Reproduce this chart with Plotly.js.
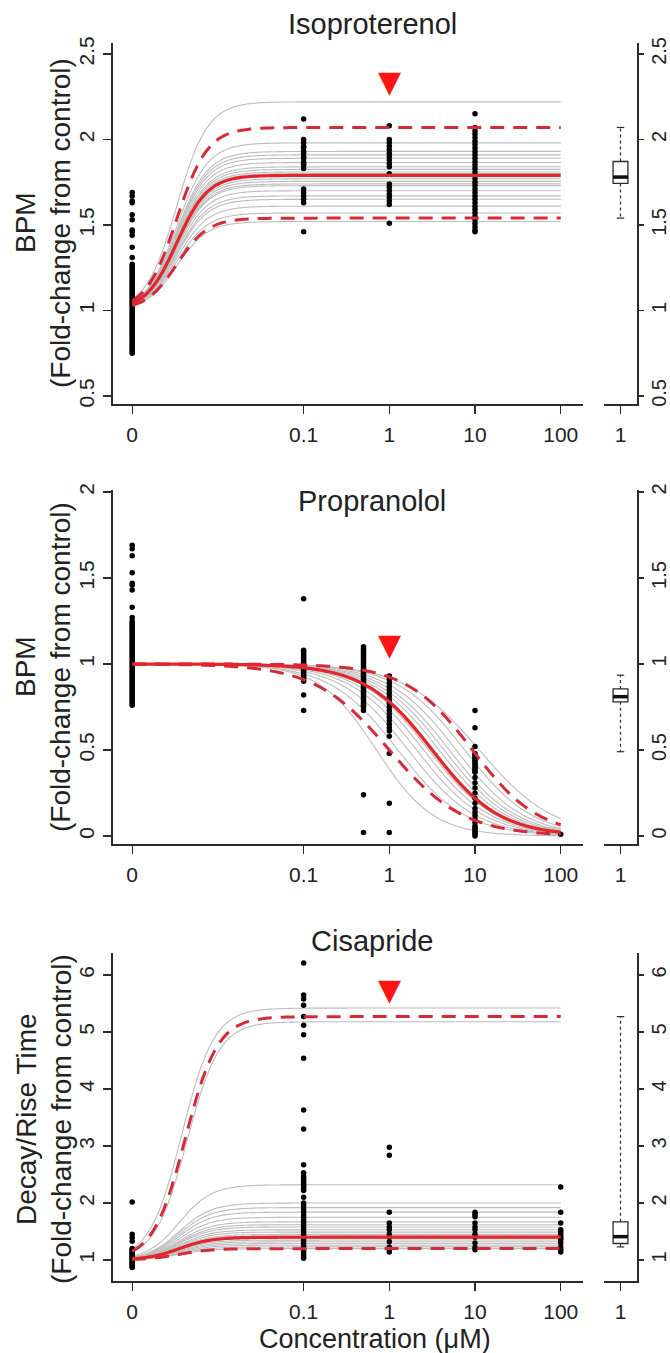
<!DOCTYPE html>
<html><head><meta charset="utf-8">
<script src="https://cdn.plot.ly/plotly-3.0.1.min.js"></script>
<style>html,body{margin:0;padding:0;background:#fff}#chart{width:670px;height:1353px}</style>
</head><body><div id="chart"></div>
<script>
// ================= DATA =================
const doseTickVals = [0, 0.1, 1, 10, 100];
const doseTickText = ['0', '0.1', '1', '10', '100'];
const markDose = 1; // red triangle concentration (µM)

// ---- Isoproterenol (BPM, fold-change) ----
const isoDoses = [0, 0.1, 1, 10];
const isoResp0 = [1.69,1.67,1.64,1.63,1.56,1.53,1.47,1.46,1.44,1.37,1.31,1.27,1.26,1.25,1.24,1.23,1.22,1.21,1.2,1.19,1.18,1.17,1.16,1.15,1.14,1.13,1.12,1.11,1.1,1.09,1.08,1.07,1.06,1.05,1.04,1.03,1.02,1.01,1.0,0.99,0.98,0.97,0.96,0.95,0.94,0.93,0.92,0.91,0.9,0.89,0.88,0.87,0.86,0.85,0.84,0.83,0.82,0.81,0.8,0.79,0.78,0.77,0.76,0.75];
const isoResp01 = [2.12,2.0,1.98,1.96,1.95,1.93,1.92,1.9,1.89,1.87,1.86,1.85,1.83,1.71,1.69,1.67,1.65,1.63,1.46];
const isoResp1 = [2.08,2.0,1.98,1.96,1.94,1.92,1.9,1.88,1.86,1.84,1.8,1.74,1.72,1.7,1.68,1.66,1.64,1.62,1.51];
const isoResp10 = [2.15,2.07,2.05,2.03,2.01,1.99,1.97,1.95,1.93,1.91,1.89,1.87,1.85,1.83,1.81,1.79,1.77,1.75,1.73,1.71,1.69,1.67,1.65,1.63,1.61,1.59,1.57,1.55,1.53,1.51,1.49,1.47,1.46];
const isoBottom = 1.0, isoLogMid = -2.48, isoSlope = 2.4;
const isoGrayTop = [2.22,1.98,1.93,1.91,1.89,1.865,1.84,1.825,1.81,1.8,1.77,1.755,1.74,1.73,1.7,1.67,1.65,1.61,1.57,1.52];
const isoFitTop = 1.79;
const isoBandTop = [2.07, 1.54];
const isoBox = {q1: 1.743, median: 1.78, q3: 1.871, lower: 1.54, upper: 2.07};
const isoMarkY = 2.34;

// ---- Propranolol (BPM, fold-change) ----
const propDoses = [0, 0.1, 0.5, 1, 10, 100];
const propResp0 = [1.69,1.67,1.63,1.53,1.47,1.46,1.43,1.33,1.27,1.25,1.24,1.23,1.22,1.21,1.2,1.19,1.18,1.17,1.16,1.15,1.14,1.13,1.12,1.11,1.1,1.09,1.08,1.07,1.06,1.05,1.04,1.03,1.02,1.01,1.0,0.99,0.98,0.97,0.96,0.95,0.94,0.93,0.92,0.91,0.9,0.89,0.88,0.87,0.86,0.85,0.84,0.83,0.82,0.81,0.8,0.79,0.78,0.77,0.76];
const propResp01 = [1.38,1.08,1.07,1.06,1.05,1.04,1.03,1.02,1.01,1.0,0.99,0.98,0.97,0.96,0.95,0.94,0.93,0.92,0.91,0.9,0.82,0.73];
const propResp05 = [1.1,1.09,1.08,1.07,1.06,1.05,1.04,1.03,1.02,1.01,1.0,0.99,0.98,0.97,0.96,0.95,0.94,0.93,0.92,0.91,0.9,0.89,0.88,0.87,0.86,0.85,0.84,0.83,0.82,0.81,0.8,0.79,0.78,0.77,0.76,0.75,0.73,0.24,0.02];
const propResp1 = [0.93,0.91,0.89,0.87,0.85,0.83,0.81,0.79,0.77,0.75,0.73,0.71,0.69,0.67,0.65,0.63,0.61,0.58,0.48,0.19,0.02];
const propResp10 = [0.73,0.63,0.52,0.48,0.47,0.46,0.45,0.44,0.43,0.42,0.41,0.4,0.39,0.38,0.37,0.34,0.31,0.28,0.25,0.22,0.19,0.16,0.14,0.12,0.1,0.08,0.06,0.05,0.04,0.03,0.02,0.01,0.0];
const propResp100 = [0.01];
const propStart = 1.0, propEnd = 0.0;
const propGrayMid = [-0.15,0.1,0.22,0.32,0.4,0.46,0.52,0.58,0.64,0.7,0.78,0.88,1.05];
const propGraySlope = [1.3,1.1,1.1,1.1,1.1,1.1,1.1,1.1,1.1,1.1,1.1,1.1,1.0];
const propFitMid = 0.5, propFitSlope = 1.1;
const propBandMid = [0.97, 0.0];
const propBandSlope = [1.12, 1.0];
const propBox = {q1: 0.78, median: 0.81, q3: 0.855, lower: 0.49, upper: 0.935};
const propMarkY = 1.116;

// ---- Cisapride (Decay/Rise time, fold-change) ----
const cisDoses = [0, 0.1, 1, 10, 100];
const cisResp0 = [2.02,1.45,1.39,1.33,1.2,1.18,1.16,1.14,1.12,1.1,1.08,1.06,1.04,1.02,1.0,0.98,0.96,0.94,0.92,0.9,0.88,0.87];
const cisResp01 = [6.21,5.65,5.58,5.47,5.27,5.12,4.95,4.54,3.63,3.3,2.67,2.53,2.47,2.43,2.4,2.36,2.33,2.3,2.26,2.22,2.1,2.0,1.95,1.9,1.85,1.8,1.75,1.7,1.65,1.6,1.55,1.5,1.45,1.4,1.35,1.3,1.25,1.2,1.15,1.1,1.06,1.03];
const cisResp1 = [2.98,2.84,1.84,1.65,1.58,1.53,1.45,1.4,1.32,1.23,1.18,1.14];
const cisResp10 = [1.84,1.8,1.76,1.65,1.58,1.53,1.45,1.4,1.3,1.22,1.18];
const cisResp100 = [2.28,1.84,1.65,1.53,1.5,1.46,1.42,1.38,1.35,1.3,1.23,1.18,1.14];
const cisBottom = 1.0, cisSlope = 2.3;
const cisHighGrayTop = [5.42, 5.18];
const cisHighGrayMid = [-2.42, -2.36];
const cisLowGrayTop = [2.32,2.0,1.92,1.84,1.75,1.67,1.62,1.58,1.53,1.49,1.45,1.42,1.38,1.35,1.32,1.29,1.26,1.23,1.2];
const cisLowMid = -2.45;
const cisFitTop = 1.40;
const cisBandTop = [5.27, 1.2];
const cisBandMid = [-2.38, -2.45];
const cisBox = {q1: 1.29, median: 1.41, q3: 1.67, lower: 1.23, upper: 5.27};
const cisMarkY = 5.74;

// ================= HELPERS =================
const FONT = 'Liberation Sans, Arial, Helvetica, sans-serif';
const GRAY = '#bdbdbd', RED = '#e3262d', RED_D = '#d42a3a', INK = '#2b2b2b';
const ZERO_POS = -3; // where dose 0 is drawn on the log axis
const pos = d => d === 0 ? ZERO_POS : Math.log10(d);
const xGrid = [];
for (let i = 0; i <= 250; i++) xGrid.push(ZERO_POS + i * 0.02);
const hill = (x, b, t, m, s) => b + (t - b) / (1 + Math.pow(10, (m - x) * s));

const traces = [];
function curve(xa, ya, b, t, m, s, style) {
  traces.push({type: 'scatter', mode: 'lines', x: xGrid, y: xGrid.map(x => hill(x, b, t, m, s)),
    xaxis: xa, yaxis: ya, line: Object.assign({shape: 'spline'}, style), hoverinfo: 'skip', showlegend: false});
}
const grayStyle = {color: GRAY, width: 1.1};
const solidStyle = {color: RED, width: 3.2};
const dashStyle = {color: RED_D, width: 3, dash: '14px,9px'};

function points(xa, ya, doses, groups) {
  const xs = [], ys = [];
  doses.forEach((d, i) => groups[i].forEach(v => { xs.push(pos(d)); ys.push(v); }));
  traces.push({type: 'scatter', mode: 'markers', x: xs, y: ys, xaxis: xa, yaxis: ya,
    marker: {color: '#000', size: 5.5}, hoverinfo: 'skip', showlegend: false});
}
function boxplot(xa, ya, st) {
  const w = 0.45;
  traces.push({type: 'box', x: [1], q1: [st.q1], median: [st.median], q3: [st.q3],
    lowerfence: [st.q1], upperfence: [st.q3], width: w, xaxis: xa, yaxis: ya,
    fillcolor: '#fff', line: {color: INK, width: 1.3}, whiskerwidth: 0, showlegend: false, hoverinfo: 'skip'});
  const ln = (x, y, extra) => traces.push(Object.assign({type: 'scatter', mode: 'lines', x, y, xaxis: xa, yaxis: ya,
    hoverinfo: 'skip', showlegend: false}, extra));
  ln([1 - w / 2, 1 + w / 2], [st.median, st.median], {line: {color: '#111', width: 3.5}});
  ln([1, 1], [st.q3, st.upper], {line: {color: INK, width: 1.2, dash: '3px,3px'}});
  ln([1, 1], [st.q1, st.lower], {line: {color: INK, width: 1.2, dash: '3px,3px'}});
  ln([1 - w / 4, 1 + w / 4], [st.upper, st.upper], {line: {color: INK, width: 1.2}});
  ln([1 - w / 4, 1 + w / 4], [st.lower, st.lower], {line: {color: INK, width: 1.2}});
}

// ---- Panel 1: Isoproterenol ----
isoGrayTop.forEach(t => curve('x', 'y', isoBottom, t, isoLogMid, isoSlope, grayStyle));
points('x', 'y', isoDoses, [isoResp0, isoResp01, isoResp1, isoResp10]);
isoBandTop.forEach(t => curve('x', 'y', isoBottom, t, isoLogMid, isoSlope, dashStyle));
curve('x', 'y', isoBottom, isoFitTop, isoLogMid, isoSlope, solidStyle);
boxplot('x2', 'y2', isoBox);

// ---- Panel 2: Propranolol ----
propGrayMid.forEach((m, i) => curve('x3', 'y3', propStart, propEnd, m, propGraySlope[i], grayStyle));
points('x3', 'y3', propDoses, [propResp0, propResp01, propResp05, propResp1, propResp10, propResp100]);
propBandMid.forEach((m, i) => curve('x3', 'y3', propStart, propEnd, m, propBandSlope[i], dashStyle));
curve('x3', 'y3', propStart, propEnd, propFitMid, propFitSlope, solidStyle);
boxplot('x4', 'y4', propBox);

// ---- Panel 3: Cisapride ----
cisHighGrayTop.forEach((t, i) => curve('x5', 'y5', cisBottom, t, cisHighGrayMid[i], cisSlope, grayStyle));
cisLowGrayTop.forEach(t => curve('x5', 'y5', cisBottom, t, cisLowMid, cisSlope, grayStyle));
points('x5', 'y5', cisDoses, [cisResp0, cisResp01, cisResp1, cisResp10, cisResp100]);
cisBandTop.forEach((t, i) => curve('x5', 'y5', cisBottom, t, cisBandMid[i], cisSlope, dashStyle));
curve('x5', 'y5', cisBottom, cisFitTop, cisLowMid, cisSlope, solidStyle);
boxplot('x6', 'y6', cisBox);

// ================= LAYOUT =================
const W = 670, H = 1353;
const px = v => v / W, py = v => 1 - v / H;
const axBase = {showline: true, linecolor: INK, linewidth: 1.6, ticks: 'outside', ticklen: 8, tickwidth: 1.4,
  tickcolor: INK, showgrid: false, zeroline: false, fixedrange: true,
  tickfont: {family: FONT, size: 21, color: '#222'}};
const mainX = (anchor) => Object.assign({}, axBase, {domain: [px(113), px(583)], range: [-3.224, 2.26], anchor,
  tickmode: 'array', tickvals: doseTickVals.map(pos), ticktext: doseTickText, ticklabelstandoff: 3});
const boxX = (anchor) => Object.assign({}, axBase, {domain: [px(604), px(637)], range: [0.5, 1.5], anchor,
  tickmode: 'array', tickvals: [1], ticktext: ['1'], ticklabelstandoff: 3});
const yAx = (dom, range, tickvals, anchor, side) => Object.assign({}, axBase, {domain: dom, range, anchor, side,
  tickmode: 'array', tickvals, ticktext: tickvals.map(String), tickangle: -90,
  ticklen: side === 'right' ? 5 : 8, ticklabelstandoff: side === 'right' ? -2 : 1,
  tickfont: {family: FONT, size: side === 'right' ? 20 : 21, color: '#222'}});

const d1 = [py(404), py(43)], d2 = [py(844), py(490)], d3 = [py(1281), py(953)];
const r1 = [0.453, 2.564], r2 = [-0.0465, 2.0116], r3 = [0.632, 6.386];
const t1 = [0.5, 1, 1.5, 2, 2.5], t2 = [0, 0.5, 1, 1.5, 2], t3 = [1, 2, 3, 4, 5, 6];

const ann = [];
const textAnn = (text, x, y, size, angle) => ann.push({text, x: px(x), y: py(y), xref: 'paper', yref: 'paper',
  showarrow: false, xanchor: 'center', yanchor: 'middle', textangle: angle || 0,
  font: {family: FONT, size, color: '#222'}});
textAnn('Isoproterenol', 372, 24, 29);
textAnn('Propranolol', 372, 501, 29);
textAnn('Cisapride', 372, 941, 29);
textAnn('BPM', 26, 223, 28, -90);
textAnn('(Fold-change from control)', 61, 223, 28, -90);
textAnn('BPM', 26, 667, 28, -90);
textAnn('(Fold-change from control)', 61, 667, 28, -90);
textAnn('Decay/Rise Time', 26, 1119, 28, -90);
textAnn('(Fold-change from control)', 61, 1119, 28, -90);
textAnn('Concentration (μM)', 375, 1339, 27);
[['x', 'y', isoMarkY], ['x3', 'y3', propMarkY], ['x5', 'y5', cisMarkY]].forEach(([xa, ya, yv]) =>
  ann.push({text: '▼', x: pos(markDose), y: yv, xref: xa, yref: ya, showarrow: false,
    xanchor: 'center', yanchor: 'middle', font: {family: 'DejaVu Sans', size: 30, color: '#ff1414'}}));

const layout = {
  width: W, height: H, margin: {l: 0, r: 0, t: 0, b: 0, autoexpand: false},
  paper_bgcolor: '#fff', plot_bgcolor: 'rgba(0,0,0,0)', showlegend: false,
  font: {family: FONT, color: '#222'},
  xaxis: mainX('y'), yaxis: yAx(d1, r1, t1, 'x', 'left'),
  xaxis2: boxX('y2'), yaxis2: yAx(d1, r1, t1, 'x2', 'right'),
  xaxis3: mainX('y3'), yaxis3: yAx(d2, r2, t2, 'x3', 'left'),
  xaxis4: boxX('y4'), yaxis4: yAx(d2, r2, t2, 'x4', 'right'),
  xaxis5: mainX('y5'), yaxis5: yAx(d3, r3, t3, 'x5', 'left'),
  xaxis6: boxX('y6'), yaxis6: yAx(d3, r3, t3, 'x6', 'right'),
  annotations: ann
};
Plotly.newPlot('chart', traces, layout, {staticPlot: true, displayModeBar: false});
</script></body></html>
